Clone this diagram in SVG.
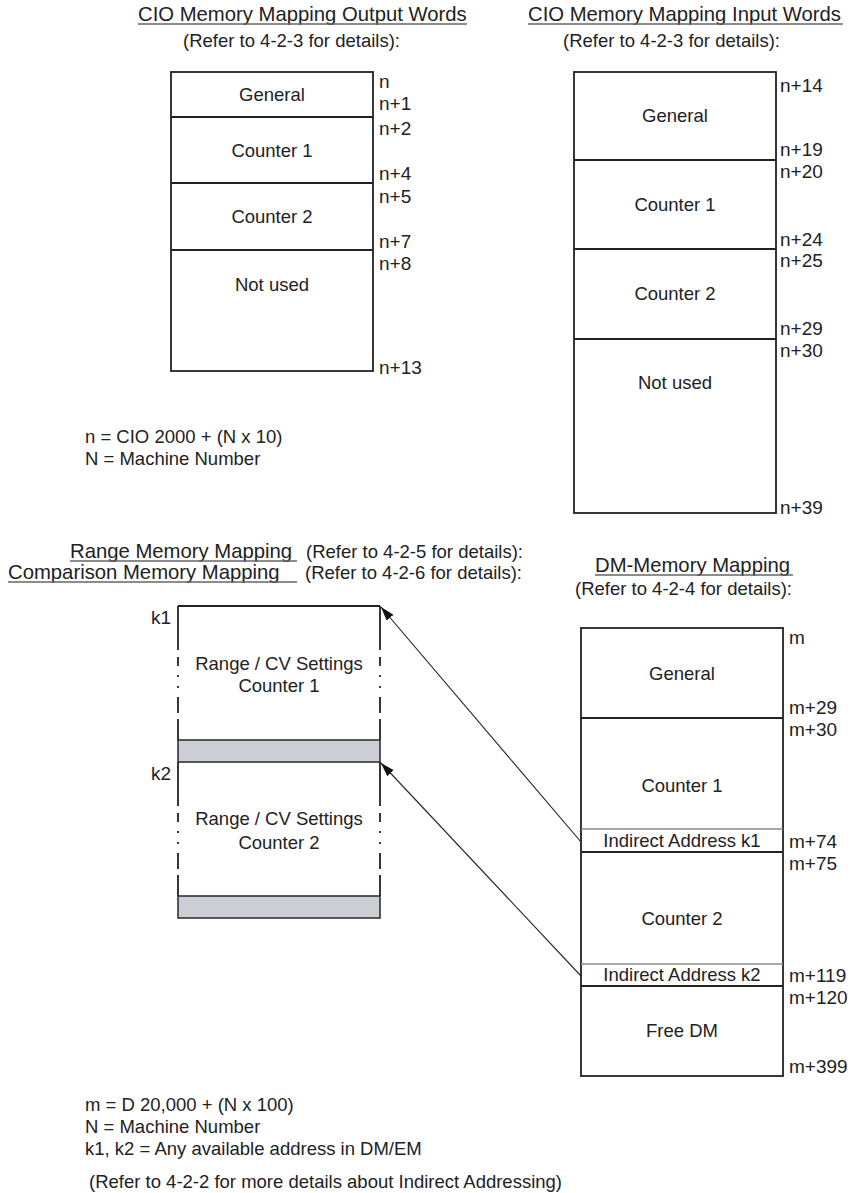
<svg xmlns="http://www.w3.org/2000/svg" width="857" height="1193" viewBox="0 0 857 1193">
<defs>
<style>
text{font-family:"Liberation Sans",Arial,sans-serif;fill:#222;font-size:18.5px}
.c{text-anchor:middle}
.tt{font-size:20.3px}
.lb{font-size:19px}
.box{fill:#fff;stroke:#222;stroke-width:1.8}
.ln{stroke:#222;stroke-width:1.8;fill:none}
.thin{stroke:#8a8a8a;stroke-width:1.4;fill:none}
.ul{stroke:#666;stroke-width:1.4}
.gray{fill:#cbced4;stroke:#333;stroke-width:1.6}
.side{stroke:#222;stroke-width:1.8;fill:none}
.arr{stroke:#222;stroke-width:1.1;fill:none;marker-end:url(#ah)}
</style>
<marker id="ah" viewBox="0 0 14 9" refX="14" refY="4.5" markerWidth="14" markerHeight="9" markerUnits="userSpaceOnUse" orient="auto">
<path d="M0,0 L14,4.5 L0,9 Z" fill="#111"/>
</marker>
</defs>
<rect width="857" height="1193" fill="#fff"/>

<g id="titles">
<text class="tt" x="138" y="21">CIO Memory Mapping Output Words</text>
<line class="ul" x1="138" y1="24" x2="467" y2="24"/>
<text x="183" y="47">(Refer to 4-2-3 for details):</text>
<text class="tt" x="528" y="21">CIO Memory Mapping Input Words</text>
<line class="ul" x1="528" y1="24" x2="843" y2="24"/>
<text x="563" y="47">(Refer to 4-2-3 for details):</text>
<text class="tt" x="70" y="558">Range Memory Mapping</text>
<line class="ul" x1="70" y1="561" x2="297" y2="561"/>
<text x="306" y="558">(Refer to 4-2-5 for details):</text>
<text class="tt" x="8" y="579">Comparison Memory Mapping</text>
<line class="ul" x1="8" y1="582" x2="297" y2="582"/>
<text x="305" y="579">(Refer to 4-2-6 for details):</text>
<text class="tt" x="595" y="572">DM-Memory Mapping</text>
<line class="ul" x1="595" y1="575" x2="793" y2="575"/>
<text x="575" y="595">(Refer to 4-2-4 for details):</text>
</g>

<g id="output-words">
<rect class="box" x="171" y="72" width="202" height="299"/>
<line class="ln" x1="171" y1="117" x2="373" y2="117"/>
<line class="ln" x1="171" y1="183" x2="373" y2="183"/>
<line class="ln" x1="171" y1="250" x2="373" y2="250"/>
<text class="c" x="272" y="101">General</text>
<text class="c" x="272" y="157">Counter 1</text>
<text class="c" x="272" y="223">Counter 2</text>
<text class="c" x="272" y="291">Not used</text>
<text class="lb" x="379" y="88">n</text>
<text class="lb" x="379" y="110">n+1</text>
<text class="lb" x="379" y="135">n+2</text>
<text class="lb" x="379" y="180">n+4</text>
<text class="lb" x="379" y="203">n+5</text>
<text class="lb" x="379" y="248">n+7</text>
<text class="lb" x="379" y="270">n+8</text>
<text class="lb" x="379" y="374">n+13</text>
</g>

<g id="input-words">
<rect class="box" x="574" y="72" width="202" height="441"/>
<line class="ln" x1="574" y1="160" x2="776" y2="160"/>
<line class="ln" x1="574" y1="249" x2="776" y2="249"/>
<line class="ln" x1="574" y1="339" x2="776" y2="339"/>
<text class="c" x="675" y="122">General</text>
<text class="c" x="675" y="211">Counter 1</text>
<text class="c" x="675" y="300">Counter 2</text>
<text class="c" x="675" y="389">Not used</text>
<text class="lb" x="780" y="92">n+14</text>
<text class="lb" x="780" y="156">n+19</text>
<text class="lb" x="780" y="178">n+20</text>
<text class="lb" x="780" y="246">n+24</text>
<text class="lb" x="780" y="267">n+25</text>
<text class="lb" x="780" y="335">n+29</text>
<text class="lb" x="780" y="357">n+30</text>
<text class="lb" x="780" y="514">n+39</text>
</g>

<g id="notes-n">
<text x="85" y="443">n = CIO 2000 + (N x 10)</text>
<text x="85" y="465">N = Machine Number</text>
</g>

<g id="range-memory">
<line class="ln" x1="178" y1="606" x2="380" y2="606"/>
<rect class="gray" x="178" y="740" width="202" height="22"/>
<rect class="gray" x="178" y="896" width="202" height="22"/>
<path class="side" d="M178,606 V650 M178,657 V666 M178,675 V677 M178,686 V688 M178,697 V713 M178,719 V740 M380,606 V650 M380,657 V666 M380,675 V677 M380,686 V688 M380,697 V713 M380,719 V740"/>
<path class="side" d="M178,762 V806 M178,813 V822 M178,831 V833 M178,842 V844 M178,853 V869 M178,875 V896 M380,762 V806 M380,813 V822 M380,831 V833 M380,842 V844 M380,853 V869 M380,875 V896"/>
<text class="c" x="279" y="670">Range / CV Settings</text>
<text class="c" x="279" y="692">Counter 1</text>
<text class="c" x="279" y="825">Range / CV Settings</text>
<text class="c" x="279" y="849">Counter 2</text>
<text class="lb" x="151" y="624">k1</text>
<text class="lb" x="151" y="780">k2</text>
</g>

<g id="dm-memory">
<rect class="box" x="581" y="628" width="202" height="448"/>
<line class="ln" x1="581" y1="718" x2="783" y2="718"/>
<line class="thin" x1="581" y1="829" x2="783" y2="829"/>
<line class="ln" x1="581" y1="852" x2="783" y2="852"/>
<line class="thin" x1="581" y1="964" x2="783" y2="964"/>
<line class="ln" x1="581" y1="986" x2="783" y2="986"/>
<text class="c" x="682" y="680">General</text>
<text class="c" x="682" y="792">Counter 1</text>
<text class="c" x="682" y="847">Indirect Address k1</text>
<text class="c" x="682" y="925">Counter 2</text>
<text class="c" x="682" y="981">Indirect Address k2</text>
<text class="c" x="682" y="1037">Free DM</text>
<text class="lb" x="789" y="644">m</text>
<text class="lb" x="789" y="714">m+29</text>
<text class="lb" x="789" y="736">m+30</text>
<text class="lb" x="789" y="848">m+74</text>
<text class="lb" x="789" y="870">m+75</text>
<text class="lb" x="789" y="982">m+119</text>
<text class="lb" x="789" y="1004">m+120</text>
<text class="lb" x="789" y="1073">m+399</text>
</g>

<g id="connectors">
<line class="arr" x1="581" y1="842" x2="381" y2="607"/>
<line class="arr" x1="581" y1="976" x2="381" y2="763"/>
</g>

<g id="notes-m">
<text x="85" y="1111">m = D 20,000 + (N x 100)</text>
<text x="85" y="1133">N = Machine Number</text>
<text x="85" y="1155">k1, k2 = Any available address in DM/EM</text>
<text x="89" y="1188">(Refer to 4-2-2 for more details about Indirect Addressing)</text>
</g>
</svg>
